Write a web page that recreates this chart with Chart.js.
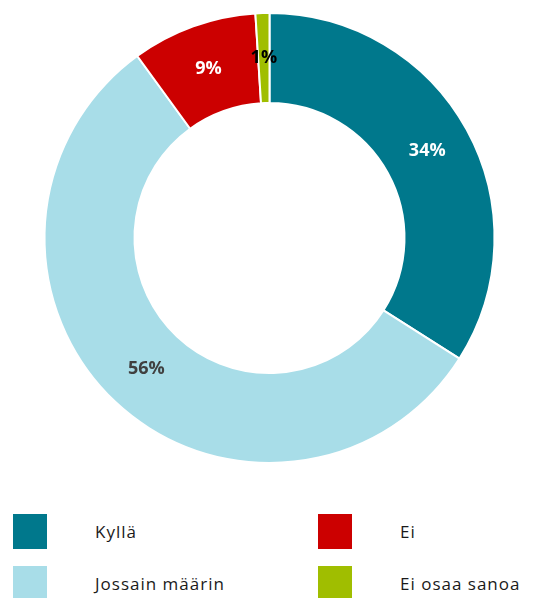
<!DOCTYPE html>
<html>
<head>
<meta charset="utf-8">
<script src="https://cdn.jsdelivr.net/npm/chart.js@4"></script>
<style>
  html, body { margin: 0; padding: 0; background: #fff; }
  #wrap { position: relative; width: 539px; height: 598px; overflow: hidden; }
  #chartBox { position: absolute; left: 0; top: 0; width: 539px; height: 490px; }
  #legend { position: absolute; left: 0; top: 514px; width: 539px; }
  .item { position: absolute; height: 35px; display: flex; align-items: center;
          font-family: "Open Sans", sans-serif; font-size: 17px; letter-spacing: 1px; color: #1a1a1a; }
  .box { width: 34px; height: 35px; margin-right: 48px; flex: none; }
</style>
</head>
<body>
<div id="wrap">
  <div id="chartBox"><canvas id="donut"></canvas></div>
  <div id="legend"></div>
</div>
<script>
(function () {
  // answers, clockwise from 12 o'clock
  var answers = ['Kyllä', 'Jossain määrin', 'Ei', 'Ei osaa sanoa'];
  var shares = [34, 56, 9, 1];
  var sliceColors = ['#00788c', '#a8dde8', '#cc0000', '#a0be00'];
  var labelColors = ['#ffffff', '#404040', '#ffffff', '#000000'];

  // legend: [left, top] for each answer (two columns)
  var legendSlots = [[13, 0], [13, 52], [318, 0], [318, 52]];

  // percent labels at each arc's centroid
  var pctLabelPlugin = {
    id: 'pctLabels',
    afterDatasetsDraw: function (chart) {
      var ctx = chart.ctx;
      var meta = chart.getDatasetMeta(0);
      meta.data.forEach(function (arc, i) {
        var pos = arc.tooltipPosition();
        ctx.save();
        ctx.font = 'bold 18px "Open Sans", sans-serif';
        ctx.fillStyle = labelColors[i];
        ctx.textAlign = 'center';
        ctx.textBaseline = 'middle';
        ctx.fillText(shares[i] + '%', pos.x, pos.y);
        ctx.restore();
      });
    }
  };

  var chart = new Chart(document.getElementById('donut'), {
    type: 'doughnut',
    data: {
      labels: answers,
      datasets: [{
        data: shares,
        backgroundColor: sliceColors,
        borderColor: '#ffffff',
        borderWidth: 2
      }]
    },
    options: {
      responsive: true,
      maintainAspectRatio: false,
      animation: false,
      cutout: '60%',
      layout: { padding: { top: 12, bottom: 26 } },
      plugins: {
        legend: { display: false },
        tooltip: { enabled: false }
      }
    },
    plugins: [pctLabelPlugin]
  });

  // html legend in two columns
  var legend = document.getElementById('legend');
  chart.data.labels.forEach(function (name, idx) {
    var slot = legendSlots[idx];
    var item = document.createElement('div');
    item.className = 'item';
    item.style.left = slot[0] + 'px';
    item.style.top = slot[1] + 'px';
    var box = document.createElement('span');
    box.className = 'box';
    box.style.background = chart.data.datasets[0].backgroundColor[idx];
    item.appendChild(box);
    item.appendChild(document.createTextNode(name));
    legend.appendChild(item);
  });
})();
</script>
</body>
</html>
